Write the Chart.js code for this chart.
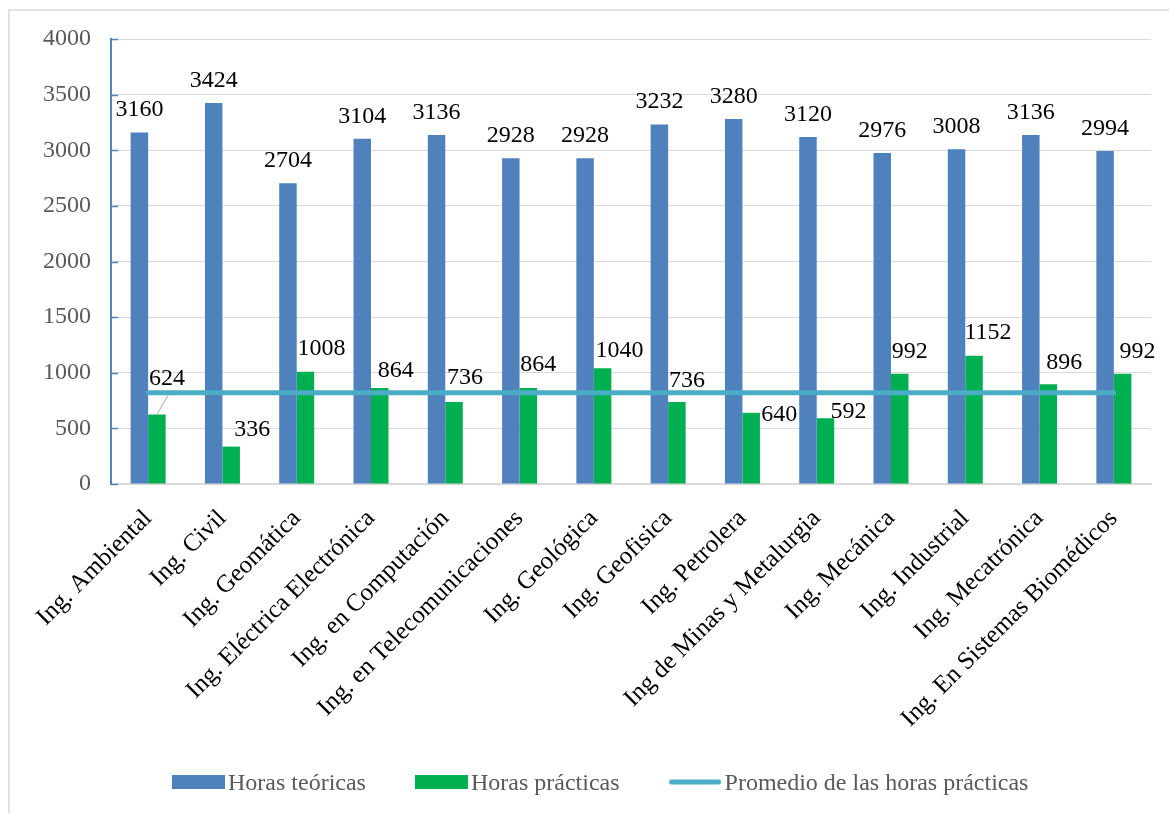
<!DOCTYPE html>
<html lang="es">
<head>
<meta charset="utf-8">
<title>Horas teóricas y prácticas por carrera</title>
<script src="https://cdn.jsdelivr.net/npm/chart.js@4.4.1/dist/chart.umd.min.js"></script>
<style>
  html, body { margin: 0; padding: 0; background: #fff; }
  #contenedor { position: relative; width: 1169px; height: 813px; }
</style>
</head>
<body>
<div id="contenedor"><canvas id="grafica"></canvas></div>
<script>
// datos por carrera
const carreras = [
    'Ing. Ambiental', 'Ing. Civil', 'Ing. Geomática', 'Ing. Eléctrica Electrónica',
    'Ing. en Computación', 'Ing. en Telecomunicaciones', 'Ing. Geológica', 'Ing. Geofisica',
    'Ing. Petrolera', 'Ing de Minas y Metalurgia', 'Ing. Mecánica', 'Ing. Industrial',
    'Ing. Mecatrónica', 'Ing. En Sistemas Biomédicos'
];
const horasTeoricas = [3160, 3424, 2704, 3104, 3136, 2928, 2928, 3232, 3280, 3120, 2976, 3008, 3136, 2994];
const horasPracticas = [624, 336, 1008, 864, 736, 864, 1040, 736, 640, 592, 992, 1152, 896, 992];
const promedioPracticas = [819.4, 819.4, 819.4, 819.4, 819.4, 819.4, 819.4, 819.4, 819.4, 819.4, 819.4, 819.4, 819.4, 819.4];
const ejeYMin = 0;
const ejeYMax = 4000;
const ejeYPaso = 500;

const FUENTE = "'Liberation Serif', 'Times New Roman', serif";
const AZUL = '#4F81BD';
const VERDE = '#00B050';
const CELESTE = '#4BACC6';
const GRIS = '#595959';
const REJILLA = '#D9D9D9';

// desplazamiento (px) de cada etiqueta verde respecto al tope de su barra
const despPracticas = [
    [10, -38], [21, -19], [16, -25], [16, -19], [11, -26], [10, -25], [17, -19],
    [10, -23], [28, 0], [23, -8], [10, -24], [14, -25], [16, -23], [15, -24]
];

// marco exterior gris
const marco = {
    id: 'marco',
    beforeDraw(chart) {
        const ctx = chart.ctx;
        ctx.save();
        ctx.strokeStyle = REJILLA;
        ctx.lineWidth = 1.5;
        ctx.beginPath();
        ctx.moveTo(9, chart.height + 5);
        ctx.lineTo(9, 10);
        ctx.lineTo(chart.width + 5, 10);
        ctx.stroke();
        ctx.restore();
    }
};

// marcas azules del eje Y hacia dentro
const marcasY = {
    id: 'marcasY',
    afterDraw(chart) {
        const y = chart.scales.y;
        const ctx = chart.ctx;
        const x0 = chart.chartArea.left;
        ctx.save();
        ctx.strokeStyle = AZUL;
        ctx.lineWidth = 1.5;
        y.ticks.forEach(t => {
            const py = Math.round(y.getPixelForValue(t.value)) + 0.5;
            ctx.beginPath();
            ctx.moveTo(x0, py);
            ctx.lineTo(x0 + 7, py);
            ctx.stroke();
        });
        ctx.restore();
    }
};

// etiquetas de valor sobre las barras
const etiquetas = {
    id: 'etiquetas',
    afterDatasetsDraw(chart) {
        const ctx = chart.ctx;
        ctx.save();
        ctx.font = `24px ${FUENTE}`;
        ctx.fillStyle = '#000';
        ctx.textAlign = 'center';
        ctx.textBaseline = 'alphabetic';

        chart.getDatasetMeta(0).data.forEach((bar, i) => {
            ctx.fillText(String(horasTeoricas[i]), bar.x, bar.y - 24 + 8);
        });

        chart.getDatasetMeta(1).data.forEach((bar, i) => {
            const [dx, dy] = despPracticas[i];
            const lx = bar.x + dx;
            const ly = bar.y + dy;
            if (i === 0) {
                // línea guía de la etiqueta desplazada
                ctx.strokeStyle = '#A6A6A6';
                ctx.lineWidth = 1;
                ctx.beginPath();
                ctx.moveTo(bar.x, bar.y);
                ctx.lineTo(lx + 1, ly + 19);
                ctx.stroke();
            }
            ctx.fillText(String(horasPracticas[i]), lx, ly + 8);
        });
        ctx.restore();
    }
};

// leyenda inferior
const leyenda = {
    id: 'leyenda',
    afterDraw(chart) {
        const ctx = chart.ctx;
        const items = chart.data.datasets.map(ds => ({
            texto: ds.label, color: ds.backgroundColor, tipo: ds.type || 'bar'
        }));
        const yc = 782;
        let x = 172;
        ctx.save();
        ctx.font = `24px ${FUENTE}`;
        ctx.textBaseline = 'alphabetic';
        ctx.textAlign = 'left';
        items.forEach(it => {
            if (it.tipo === 'line') {
                ctx.strokeStyle = it.color;
                ctx.lineWidth = 5;
                ctx.lineCap = 'round';
                ctx.beginPath();
                ctx.moveTo(x + 3, yc);
                ctx.lineTo(x + 50, yc);
                ctx.stroke();
            } else {
                ctx.fillStyle = it.color;
                ctx.fillRect(x, yc - 7, 53, 14);
            }
            x += 56;
            ctx.fillStyle = GRIS;
            ctx.fillText(it.texto, x, yc + 8);
            x += ctx.measureText(it.texto).width + 49;
        });
        ctx.restore();
    }
};

new Chart(document.getElementById('grafica'), {
    data: {
        labels: carreras,
        datasets: [
            {
                type: 'bar',
                label: 'Horas teóricas',
                data: horasTeoricas,
                backgroundColor: AZUL,
                categoryPercentage: 0.471,
                barPercentage: 1.0,
                order: 1
            },
            {
                type: 'bar',
                label: 'Horas prácticas',
                data: horasPracticas,
                backgroundColor: VERDE,
                categoryPercentage: 0.471,
                barPercentage: 1.0,
                order: 1
            },
            {
                type: 'line',
                label: 'Promedio de las horas prácticas',
                data: promedioPracticas,
                borderColor: CELESTE,
                backgroundColor: CELESTE,
                borderWidth: 5,
                borderCapStyle: 'round',
                pointRadius: 0,
                fill: false,
                order: 0
            }
        ]
    },
    options: {
        responsive: true,
        maintainAspectRatio: false,
        animation: false,
        layout: { padding: { top: 39, right: 18, left: 0, bottom: 0 } },
        plugins: {
            legend: { display: false },
            tooltip: { enabled: false }
        },
        scales: {
            x: {
                grid: { display: false, drawTicks: false },
                border: { color: REJILLA, width: 2 },
                ticks: {
                    autoSkip: false,
                    minRotation: 45,
                    maxRotation: 45,
                    padding: 20,
                    color: '#000',
                    font: { family: FUENTE, size: 25 }
                },
                afterFit: s => { s.height = 813 - 484; }
            },
            y: {
                min: ejeYMin,
                max: ejeYMax,
                grid: { color: REJILLA, lineWidth: 1, drawTicks: false },
                border: { color: AZUL, width: 2 },
                ticks: {
                    stepSize: ejeYPaso,
                    padding: 20,
                    color: GRIS,
                    font: { family: FUENTE, size: 24 },
                    callback: v => String(v)
                },
                afterFit: s => { s.width = 111; }
            }
        }
    },
    plugins: [marco, marcasY, etiquetas, leyenda]
});
</script>
</body>
</html>
